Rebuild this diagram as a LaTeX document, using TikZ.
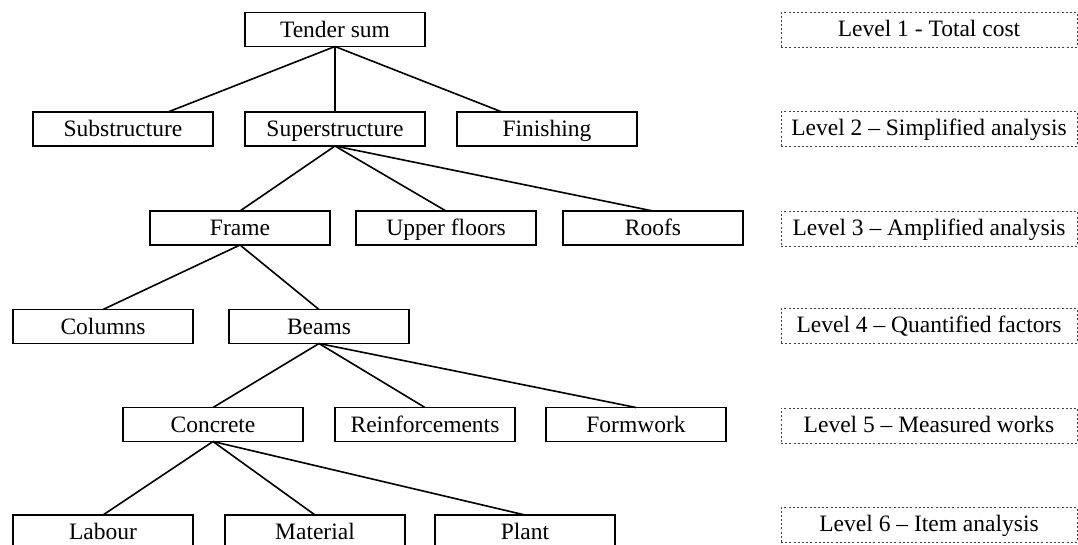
\documentclass[tikz,border=0pt]{standalone}
\usepackage{fontspec}
\setmainfont{Liberation Serif}
\usetikzlibrary{calc}
\begin{document}
\begin{tikzpicture}[x=1pt,y=-1pt,
  item/.style={draw=black,line width=1.1pt,rectangle,minimum width=180pt,minimum height=34pt,
    inner sep=0pt,outer sep=0pt,text height=20pt,text depth=5pt,
    font=\fontsize{23.5}{27}\selectfont},
  levelbox/.style={draw=black!75,line width=1pt,dash pattern=on 2pt off 2.2pt,rectangle,
    minimum width=296pt,minimum height=35pt,inner sep=0pt,outer sep=0pt,
    text height=19pt,text depth=6pt,font=\fontsize{23.5}{27}\selectfont},
  link/.style={line width=1.6pt,black}]
\useasboundingbox (0,0) rectangle (1078,544);

% tree of cost items
\node[item] (tender) at (335,29.5) {Tender sum};

\node[item] (sub)   at (123,129) {Substructure};
\node[item] (super) at (335,129) {Superstructure};
\node[item] (fin)   at (547,129) {Finishing};

\node[item] (frame) at (240,228) {Frame};
\node[item] (upper) at (446,228) {Upper floors};
\node[item] (roofs) at (653,228) {Roofs};

\node[item] (cols)  at (103,326.5) {Columns};
\node[item] (beams) at (319,326.5) {Beams};

\node[item] (conc)  at (213,424.5) {Concrete};
\node[item] (reinf) at (425,424.5) {Reinforcements};
\node[item] (form)  at (636,424.5) {Formwork};

\node[item] (lab)   at (103,532) {Labour};
\node[item] (mat)   at (315,532) {Material};
\node[item] (plant) at (525,532) {Plant};

% level labels
\node[levelbox] (l1) at (929,30)    {Level 1 - Total cost};
\node[levelbox] (l2) at (929,129)   {Level 2 – Simplified analysis};
\node[levelbox] (l3) at (929,228.5) {Level 3 – Amplified analysis};
\node[levelbox] (l4) at (929,326)   {Level 4 – Quantified factors};
\node[levelbox] (l5) at (929,425.5) {Level 5 – Measured works};
\node[levelbox] (l6) at (929,525)   {Level 6 – Item analysis};

% connectors
\draw[link] (tender.south) -- ($(sub.north west)!0.75!(sub.north east)$);
\draw[link] (tender.south) -- (super.north);
\draw[link] (tender.south) -- ($(fin.north west)!0.25!(fin.north east)$);

\draw[link] (super.south) -- (frame.north);
\draw[link] (super.south) -- (upper.north);
\draw[link] (super.south) -- (roofs.north);

\draw[link] (frame.south) -- (cols.north);
\draw[link] (frame.south) -- (beams.north);

\draw[link] (beams.south) -- (conc.north);
\draw[link] (beams.south) -- (reinf.north);
\draw[link] (beams.south) -- (form.north);

\draw[link] (conc.south) -- (lab.north);
\draw[link] (conc.south) -- (mat.north);
\draw[link] (conc.south) -- (plant.north);
\end{tikzpicture}
\end{document}
